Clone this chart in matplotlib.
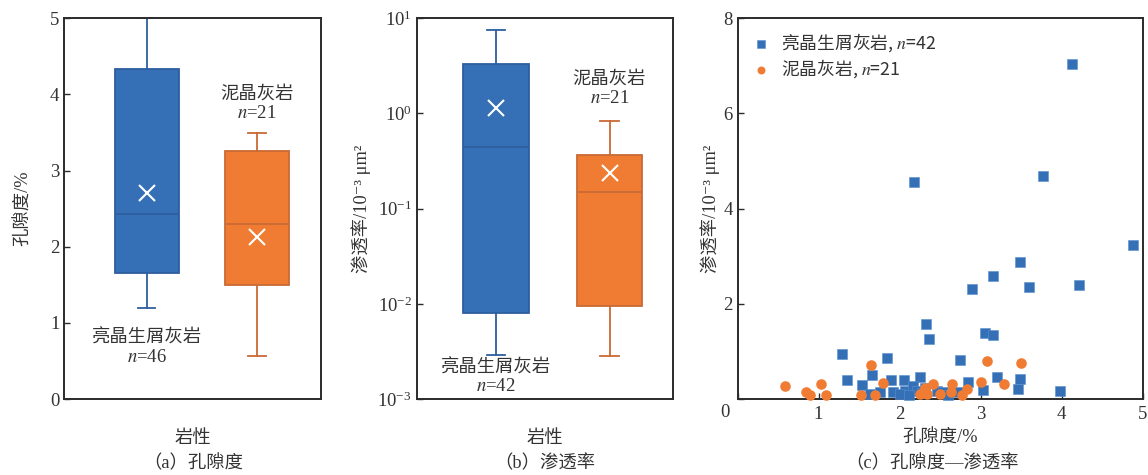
import numpy as np
import matplotlib
matplotlib.use("Agg")
import matplotlib.pyplot as plt
import matplotlib.transforms as mtransforms
from matplotlib.ticker import LogLocator, NullLocator

plt.rcParams['font.family'] = ['Liberation Serif', 'Noto Sans CJK SC', 'DejaVu Sans']
plt.rcParams['mathtext.fontset'] = 'stix'
plt.rcParams['axes.unicode_minus'] = False

# ---------------- data ----------------
groups = ['亮晶生屑灰岩', '泥晶灰岩']
group_n_por = [46, 21]
group_n_perm = [42, 21]

# box stats: whislo, q1, med, q3, whishi, mean
por_blue = dict(whislo=1.20, q1=1.655, med=2.43, q3=4.33, whishi=5.00, mean=2.70)
por_orange = dict(whislo=0.57, q1=1.50, med=2.30, q3=3.26, whishi=3.50, mean=2.13)
perm_blue = dict(whislo=0.0029, q1=0.0081, med=0.443, q3=3.33, whishi=7.6, mean=1.15)
perm_orange = dict(whislo=0.0028, q1=0.0095, med=0.15, q3=0.367, whishi=0.837, mean=0.237)

blue_x = [4.13, 2.18, 3.77, 4.88, 3.49, 3.16, 3.60, 4.22, 2.89, 2.33,
          2.37, 3.06, 3.16, 1.29, 1.85, 2.75, 1.35, 1.66, 1.54, 1.90,
          2.25, 2.85, 3.20, 3.49, 3.46, 3.03, 3.98, 2.06, 1.64, 1.76,
          1.92, 2.07, 2.00, 2.17, 2.21, 2.31, 2.46, 2.54, 2.12, 2.28,
          2.60, 2.72]
blue_y = [7.05, 4.55, 4.69, 3.24, 2.88, 2.58, 2.36, 2.40, 2.32, 1.57,
          1.26, 1.39, 1.35, 0.95, 0.86, 0.82, 0.39, 0.51, 0.29, 0.40,
          0.47, 0.36, 0.47, 0.43, 0.21, 0.19, 0.16, 0.39, 0.10, 0.14,
          0.14, 0.17, 0.10, 0.28, 0.17, 0.24, 0.17, 0.14, 0.08, 0.12,
          0.08, 0.15]
orange_x = [0.59, 0.84, 0.90, 1.03, 1.09, 1.52, 1.65, 1.70, 1.80, 2.25,
            2.31, 2.34, 2.41, 2.50, 2.64, 2.65, 2.77, 2.83, 3.00, 3.08,
            3.29, 3.50]
orange_y = [0.27, 0.14, 0.09, 0.32, 0.09, 0.09, 0.72, 0.09, 0.33, 0.10,
            0.24, 0.10, 0.32, 0.10, 0.15, 0.31, 0.09, 0.20, 0.36, 0.79,
            0.32, 0.76]

BLUE = '#3570B7'
BLUE_E = '#2E5F9F'
ORANGE = '#F07C33'
ORANGE_E = '#C96A35'
SPINE = '#2b2b2b'
TXT = '#333333'
CJK_FS = 13.2
PERM_LABEL = '渗透率/10⁻³ μm²'

fig = plt.figure(figsize=(11.48, 4.75), dpi=100)
W, H = 1148.0, 475.0

def axes_px(l, r, t, b):
    return fig.add_axes([l / W, 1 - b / H, (r - l) / W, (b - t) / H])

ax_a = axes_px(64.3, 321.3, 18.3, 399)
ax_b = axes_px(416.7, 673.3, 18.3, 399)
ax_c = axes_px(737.5, 1142.5, 18.3, 399)

for ax in (ax_a, ax_b, ax_c):
    for s in ax.spines.values():
        s.set_color(SPINE)
        s.set_linewidth(1.4)
    ax.tick_params(direction='in', length=4, width=1.0, color=SPINE,
                   labelsize=13.5, labelcolor=TXT)

def draw_box(ax, stats_list, colors, edges):
    for i, (st, c, e) in enumerate(zip(stats_list, colors, edges)):
        d = dict(st)
        d['fliers'] = []
        ax.bxp([d], positions=[i + 1], widths=0.58, patch_artist=True,
               showmeans=True, showfliers=False, meanline=False,
               boxprops=dict(facecolor=c, edgecolor=e, linewidth=1.3),
               medianprops=dict(color=e, linewidth=1.3),
               whiskerprops=dict(color=e, linewidth=1.3),
               capprops=dict(color=e, linewidth=1.3),
               capwidths=0.16,
               meanprops=dict(marker='x', markeredgecolor='white',
                              markersize=11, markeredgewidth=1.5))

# ---------- (a) ----------
draw_box(ax_a, [por_blue, por_orange], [BLUE, ORANGE], [BLUE_E, ORANGE_E])
ax_a.set_xlim(0.256, 2.58)
ax_a.set_ylim(0, 5)
ax_a.set_yticks([0, 1, 2, 3, 4, 5])
ax_a.set_xticks([])
ax_a.set_ylabel('孔隙度/%', fontsize=CJK_FS, color=TXT, labelpad=13)
tr_a = mtransforms.blended_transform_factory(ax_a.transData, ax_a.transAxes)
ax_a.text(2, 0.80, groups[1], transform=tr_a, ha='center', va='center', fontsize=CJK_FS, color=TXT)
ax_a.text(2, 0.75, f'$n$={group_n_por[1]}', transform=tr_a, ha='center', va='center', fontsize=13.5, color=TXT)
ax_a.text(1, 0.16, groups[0], transform=tr_a, ha='center', va='center', fontsize=CJK_FS, color=TXT)
ax_a.text(1, 0.108, f'$n$={group_n_por[0]}', transform=tr_a, ha='center', va='center', fontsize=13.5, color=TXT)

# ---------- (b) ----------
draw_box(ax_b, [perm_blue, perm_orange], [BLUE, ORANGE], [BLUE_E, ORANGE_E])
ax_b.set_yscale('log')
ax_b.set_xlim(0.298, 2.563)
ax_b.set_ylim(1e-3, 1e1)
ax_b.yaxis.set_major_locator(LogLocator(base=10, numticks=10))
ax_b.yaxis.set_minor_locator(NullLocator())
ax_b.set_xticks([])
ax_b.set_ylabel(PERM_LABEL, fontsize=CJK_FS, color=TXT, labelpad=5)
tr_b = mtransforms.blended_transform_factory(ax_b.transData, ax_b.transAxes)
ax_b.text(2, 0.84, groups[1], transform=tr_b, ha='center', va='center', fontsize=CJK_FS, color=TXT)
ax_b.text(2, 0.79, f'$n$={group_n_perm[1]}', transform=tr_b, ha='center', va='center', fontsize=13.5, color=TXT)
ax_b.text(1, 0.081, groups[0], transform=tr_b, ha='center', va='center', fontsize=CJK_FS, color=TXT)
ax_b.text(1, 0.032, f'$n$={group_n_perm[0]}', transform=tr_b, ha='center', va='center', fontsize=13.5, color=TXT)

# ---------- (c) ----------
ax_c.scatter(blue_x, blue_y, marker='s', s=58, color=BLUE, linewidths=0.4,
             edgecolors='#5a8fd0', zorder=3, clip_on=False,
             label=f'{groups[0]}, $n$={group_n_perm[0]}')
ax_c.scatter(orange_x, orange_y, marker='o', s=58, color=ORANGE, linewidths=0,
             zorder=4, clip_on=False,
             label=f'{groups[1]}, $n$={group_n_perm[1]}')
ax_c.set_xlim(0, 5)
ax_c.set_ylim(0, 8)
ax_c.set_xticks([0, 1, 2, 3, 4, 5])
ax_c.set_xticklabels(['', '1', '2', '3', '4', '5'])
ax_c.set_yticks([0, 2, 4, 6, 8])
ax_c.set_yticklabels(['', '2', '4', '6', '8'])
ax_c.tick_params(axis='x', pad=5)
ax_c.text(-0.03, -0.035, '0', transform=ax_c.transAxes, ha='center', va='center',
          fontsize=13.5, color=TXT)
ax_c.set_ylabel(PERM_LABEL, fontsize=CJK_FS, color=TXT, labelpad=2)
leg = ax_c.legend(loc='upper left', frameon=False,
                  prop={'family': ['Noto Sans CJK SC'], 'size': 12.8},
                  markerscale=0.75, handletextpad=0.5, borderaxespad=0.35,
                  labelspacing=0.15, handlelength=1.2)
for t in leg.get_texts():
    t.set_color(TXT)

# x labels and captions
for ax, lab in ((ax_a, '岩性'), (ax_b, '岩性'), (ax_c, '孔隙度/%')):
    ax.set_xlabel(lab, fontsize=CJK_FS, color=TXT)
    ax.xaxis.set_label_coords(0.5, (399 - 438) / 380.7)
    ax.xaxis.label.set_va('center')

caps = ['（a）孔隙度', '（b）渗透率', '（c）孔隙度—渗透率']
cx = [(64.3 + 321.3) / 2, (416.7 + 673.3) / 2, (737.5 + 1142.5) / 2 - 8]
for c, x in zip(caps, cx):
    fig.text(x / W, 1 - 463 / H, c, ha='center', va='center', fontsize=CJK_FS, color=TXT)

fig.savefig('out.png', dpi=100)
